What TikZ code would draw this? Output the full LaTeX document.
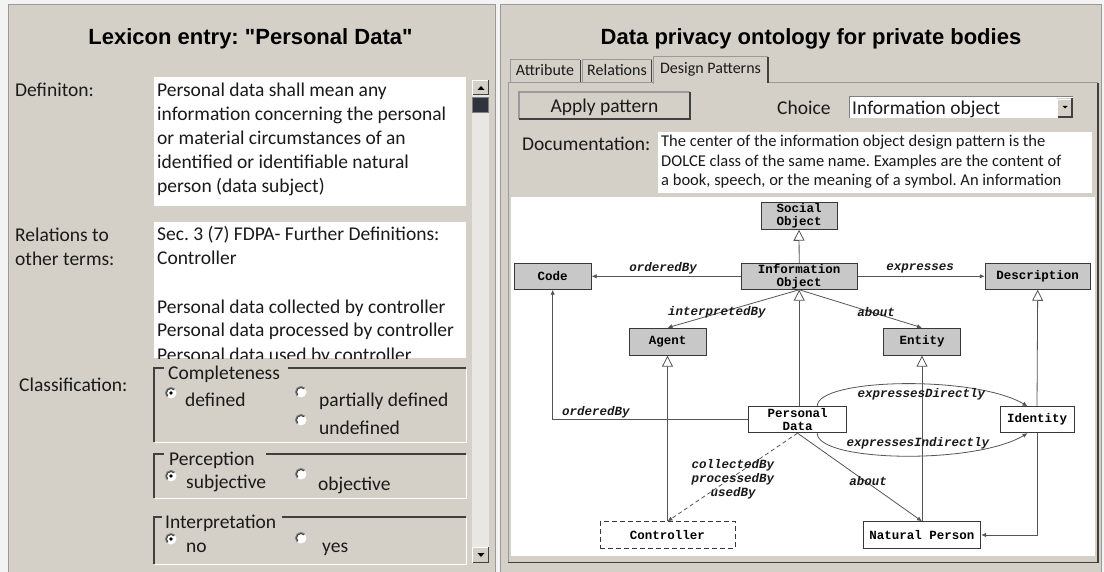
\documentclass[tikz,border=0pt]{standalone}
\usepackage{fontspec}
\setmainfont{Carlito}
\newfontfamily\headfont{Liberation Sans}
\newfontfamily\umlfont{Liberation Mono}
\usetikzlibrary{arrows.meta,calc}
\pgfdeclarelayer{ui}
\pgfdeclarelayer{edges}
\pgfsetlayers{ui,edges,main}
\frenchspacing

\definecolor{winbg}{HTML}{D4D0C8}
\definecolor{winshadow}{HTML}{808080}
\definecolor{windark}{HTML}{404040}
\definecolor{frameline}{HTML}{9A9A9A}
\definecolor{outside}{HTML}{F3F3F3}
\definecolor{trackcol}{HTML}{E9E7E3}
\definecolor{thumbcol}{HTML}{2F333D}
\definecolor{umlfill}{HTML}{C8C8C8}
\definecolor{umlline}{HTML}{383838}
\definecolor{edgecol}{HTML}{555555}
\definecolor{textcol}{HTML}{1A1A1A}

\tikzset{
  uitext/.style={anchor=base west, inner sep=0pt, text=textcol, font=\fontsize{19.5}{24}\selectfont},
  tabtext/.style={anchor=base, inner sep=0pt, text=textcol, font=\fontsize{16}{19}\selectfont},
  doctext/.style={anchor=base west, inner sep=0pt, text=textcol, font=\fontsize{16.5}{20}\selectfont},
  headtext/.style={anchor=base, inner sep=0pt, text=black, font=\headfont\bfseries\fontsize{22}{26}\selectfont},
  umlbox/.style={draw=umlline, line width=0.9pt, fill=umlfill, inner sep=0pt, align=center,
    font=\umlfont\bfseries\fontsize{12.5}{13}\selectfont},
  plainbox/.style={umlbox, fill=white},
  dashbox/.style={plainbox, dash pattern=on 5pt off 3pt},
  rel/.style={inner sep=0pt, align=center, text=textcol,
    font=\umlfont\bfseries\itshape\fontsize{12.5}{14}\selectfont},
  gen/.style={draw=edgecol, line width=0.8pt, -{Triangle[length=11pt,width=11pt,fill=white]}},
  assoc/.style={draw=edgecol, line width=0.8pt, -{Latex[length=5pt,width=4.5pt]}},
  radiobase/.pic={
    \fill[white] (0,0) circle[radius=5.5];
    \draw[winshadow, line width=1pt] (135:5.5) arc[start angle=135, end angle=315, radius=5.5];
    \draw[windark, line width=1pt] (135:4.5) arc[start angle=135, end angle=315, radius=4.5];
  },
  radiooff/.pic={\pic{radiobase};},
  radioon/.pic={\pic{radiobase}; \fill[black] (0,0) circle[radius=1.8];},
}

\begin{document}
\begin{tikzpicture}[x=1pt,y=-1pt]
\useasboundingbox (0,0) rectangle (1104,572);

\begin{pgfonlayer}{ui}
% window surroundings and the two panels
\fill[outside] (0,0) rectangle (1104,572);
\fill[winbg] (8,5) rectangle (495,572);
\fill[winbg] (500,5) rectangle (1101,572);
\draw[frameline, line width=1pt] (8,572) -- (8,5) -- (495,5) -- (495,572);
\draw[frameline, line width=1pt] (500,572) -- (500,5) -- (1101,5) -- (1101,572);

% ---------- left panel: lexicon entry ----------
\node[headtext] (lextitle) at (250.5,44.5) {Lexicon entry: "Personal Data"};

\node[uitext] (deflabel) at (15,97) {Definiton:};
\fill[white] (154,77) rectangle (466,206);
\foreach \t [count=\i] in {Personal data shall mean any,
    information concerning the personal,
    or material circumstances of an,
    identified or identifiable natural,
    person (data subject)}
  \node[uitext] (def\i) at (157,{97+24*(\i-1)}) {\t};

\node[uitext] (rellabelA) at (15,241.5) {Relations to};
\node[uitext] (rellabelB) at (15,265.5) {other terms:};
\fill[white] (154,222) rectangle (466,358);
\begin{scope}
  \clip (154,222) rectangle (466,358);
  \node[uitext] (relA) at (157,241) {Sec. 3 (7) FDPA- Further Definitions:};
  \node[uitext] (relB) at (157,265) {Controller};
  \node[uitext] (relC) at (157,313) {Personal data collected by controller};
  \node[uitext] (relD) at (157,337) {Personal data processed by controller};
  \node[uitext] (relE) at (157,361) {Personal data used by controller};
\end{scope}

\node[uitext] (classlabel) at (19,391.5) {Classification:};

% group box: completeness
\draw[windark, line width=1.3pt] (164,368) -- (154,368) -- (154,442);
\draw[windark, line width=1.3pt] (288,368) -- (466,368);
\draw[white, line width=1pt] (154.6,442) -- (466,442) -- (466,368.6);
\node[uitext] (grpA) at (168,379) {Completeness};
\pic at (171,393) {radioon};
\node[uitext] (optA1) at (185,406) {defined};
\pic at (301,392) {radiooff};
\node[uitext] (optA2) at (319,406) {partially defined};
\pic at (301,420) {radiooff};
\node[uitext] (optA3) at (319,434) {undefined};

% group box: perception
\draw[windark, line width=1.3pt] (164,454) -- (154,454) -- (154,498);
\draw[windark, line width=1.3pt] (266,454) -- (466,454);
\draw[white, line width=1pt] (154.6,498) -- (466,498) -- (466,454.6);
\node[uitext] (grpB) at (169,465) {Perception};
\pic at (171,476) {radioon};
\node[uitext] (optB1) at (186,488) {subjective};
\pic at (301,474) {radiooff};
\node[uitext] (optB2) at (318,490) {objective};

% group box: interpretation
\draw[windark, line width=1.3pt] (162,517) -- (154,517) -- (154,564);
\draw[windark, line width=1.3pt] (282,517) -- (466,517);
\draw[white, line width=1pt] (154.6,564) -- (466,564) -- (466,517.6);
\node[uitext] (grpC) at (165,528) {Interpretation};
\pic at (171,539) {radioon};
\node[uitext] (optC1) at (186,552) {no};
\pic at (301,538) {radiooff};
\node[uitext] (optC2) at (322,552) {yes};

% vertical scroll bar
\fill[trackcol] (472,80) rectangle (489,563);
\foreach \ya/\yb in {80/95, 547/563} {
  \fill[winbg] (472,\ya) rectangle (489,\yb);
  \draw[white, line width=1pt] (472.5,\yb) -- (472.5,\ya+0.5) -- (489,\ya+0.5);
  \draw[windark, line width=1.2pt] (472.5,\yb-0.5) -- (488.5,\yb-0.5) -- (488.5,\ya);
}
\fill[black] (477.5,90) -- (484.5,90) -- (481,86) -- cycle;
\fill[black] (477.5,553) -- (484.5,553) -- (481,557) -- cycle;
\fill[thumbcol] (472,97) rectangle (489,113);
\draw[winshadow, line width=0.8pt] (472.5,97.5) rectangle (488.5,112.5);

% ---------- right panel: ontology ----------
\node[headtext] (onttitle) at (811,44.5) {Data privacy ontology for private bodies};

% tab headers
\fill[winbg] (510,60) rectangle (580,83);
\draw[frameline, line width=1pt] (510,83) -- (510,60) -- (580,60);
\draw[windark, line width=1pt] (580,60) -- (580,83);
\node[tabtext] (tabA) at (545,76) {Attribute};
\fill[winbg] (582,60) rectangle (651.5,83);
\draw[frameline, line width=1pt] (582,83) -- (582,60) -- (651.5,60);
\draw[windark, line width=1pt] (651.5,60) -- (651.5,83);
\node[tabtext] (tabB) at (617,76) {Relations};

% tab page frame
\draw[frameline, line width=1pt] (508,562) -- (508,83) -- (653,83);
\draw[frameline, line width=1pt] (768,83) -- (1098,83);
\draw[windark, line width=1.6pt] (508,562.5) -- (1098,562.5) -- (1098,83);

% selected tab
\fill[winbg] (653,57) rectangle (768,84.5);
\draw[frameline, line width=1pt] (653,84) -- (653,57) -- (768,57);
\draw[windark, line width=1.2pt] (768,57) -- (768,83);
\node[tabtext] (tabC) at (710.5,74) {Design Patterns};

% apply button
\fill[winbg] (519,92) rectangle (690,119);
\draw[frameline, line width=1.2pt] (519,119) -- (519,92) -- (690,92);
\draw[windark, line width=1.8pt] (519,119) -- (690,119) -- (690,92);
\node[uitext, anchor=base] (apply) at (604.5,113) {Apply pattern};

% choice combo box
\node[uitext] (choicelabel) at (777,115) {Choice};
\fill[white] (849,97) rectangle (1073,118);
\draw[winshadow, line width=1pt] (849,118) -- (849,97) -- (1073,97);
\fill[winbg] (1057,98.5) rectangle (1072,117);
\draw[white, line width=0.8pt] (1057.5,117) -- (1057.5,99) -- (1072,99);
\draw[windark, line width=1.2pt] (1057.5,117) -- (1072,117) -- (1072,98.5);
\fill[black] (1062.5,106) -- (1067.5,106) -- (1065,108.5) -- cycle;
\node[uitext] (choice) at (852,115) {Information object};

% documentation box
\node[uitext] (doclabel) at (522,151) {Documentation:};
\fill[white] (658,132) rectangle (1092,193);
\node[doctext] (docA) at (661,147) {The center of the information object design pattern is the};
\node[doctext] (docB) at (661,166.5) {DOLCE class of the same name. Examples are the content of};
\node[doctext] (docC) at (661,186) {a book, speech, or the meaning of a symbol. An information};

% diagram canvas
\fill[white] (511,197) rectangle (1095,556);
\end{pgfonlayer}

% ---------- design pattern diagram ----------
\node[umlbox, minimum width=76pt, minimum height=27pt] (soc) at (799,215.8) {Social\\Object};
\node[umlbox, minimum width=116pt, minimum height=26pt] (info) at (799.2,276.3) {Information\\Object};
\node[umlbox, minimum width=77pt, minimum height=26pt] (code) at (552.7,276.3) {Code};
\node[umlbox, minimum width=105pt, minimum height=26pt] (desc) at (1037.7,276.3) {Description};
\node[umlbox, minimum width=77pt, minimum height=27pt] (agent) at (667.5,341.7) {Agent};
\node[umlbox, minimum width=77.5pt, minimum height=27pt] (entity) at (922,341.7) {Entity};
\node[plainbox, minimum width=98.5pt, minimum height=26pt] (pd) at (797.5,419.7) {Personal\\Data};
\node[plainbox, minimum width=74pt, minimum height=26pt] (ident) at (1037,419.7) {Identity};
\node[dashbox, minimum width=135pt, minimum height=26.5pt] (ctrl) at (667.5,535) {Controller};
\node[plainbox, minimum width=117.5pt, minimum height=26.5pt] (np) at (922,535) {Natural Person};

\begin{pgfonlayer}{edges}
% specialisations
\draw[gen] (info.north) -- (soc.south);
\draw[gen] (pd.north -| info.south) -- (info.south);
\draw[gen] (ctrl.north -| agent.south) -- (agent.south);
\draw[gen] (np.north) -- (entity.south);
\draw[gen] (ident.north) -- (desc.south);
% associations
\draw[assoc] (info.west) -- (code.east);
\draw[assoc] (info.east) -- (desc.west);
\draw[assoc] (info.south) -- (agent.north);
\draw[assoc] (info.south) -- (entity.north);
\draw[assoc] (pd.west) -| (code.south);
\draw[assoc, dash pattern=on 4pt off 3pt] (pd.south) -- (ctrl.north);
\draw[assoc] (pd.south) -- (np.north);
\draw[assoc] (ident.south) |- (np.east);
\draw[assoc] ($(pd.north east)+(-30,0)$) .. controls (817,378) and (975,375) .. ($(ident.north west)+(28,0)$);
\draw[assoc] ($(pd.south east)+(-30,0)$) .. controls (817,462) and (975,465) .. ($(ident.south west)+(28,0)$);
\end{pgfonlayer}

% association names
\node[rel] (lblorder) at (663,268) {orderedBy};
\node[rel] (lblexpr) at (920,268) {expresses};
\node[rel] (lblinterp) at (717,312) {interpretedBy};
\node[rel] (lblabout) at (876,312) {about};
\node[rel] (lblorder2) at (596,412) {orderedBy};
\node[rel] (lbldirect) at (921.5,394) {expressesDirectly};
\node[rel] (lblindirect) at (918,443) {expressesIndirectly};
\node[rel] (lblctrl) at (733,479) {collectedBy\\processedBy\\usedBy};
\node[rel] (lblabout2) at (868,481) {about};
\end{tikzpicture}
\end{document}
